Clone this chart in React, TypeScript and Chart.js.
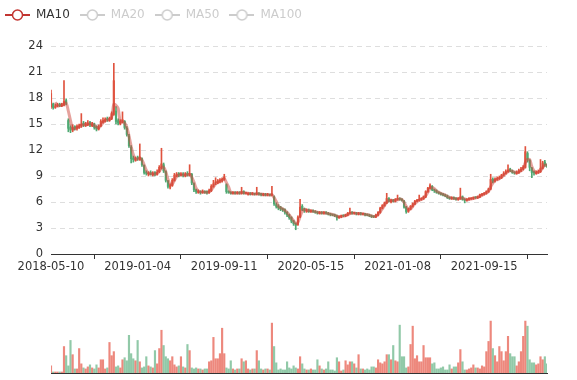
import React, { useEffect, useRef } from 'react';
import { Chart, registerables } from 'chart.js';

Chart.register(...registerables);

const tickLabels = ['2018-05-10', '2019-01-04', '2019-09-11', '2020-05-15', '2021-01-08', '2021-09-15'];
const TICK_STEP = 40; // samples between two date labels
const legendNames = ['MA10', 'MA20', 'MA50', 'MA100'];
const MA_WINDOW = 3; // ~10 trading days at this sampling

const opens = [
  17.0, 17.3, 16.9, 17.1, 17.3, 17.1, 17.2, 17.7, 15.4, 14.6,
  14.3, 14.7, 14.5, 14.6, 14.8, 15.1, 14.8, 14.9, 15.2, 14.8,
  15.0, 14.7, 14.4, 14.8, 15.2, 15.3, 15.6, 15.4, 15.6, 16.1,
  16.5, 15.4, 15.0, 15.2, 15.3, 14.5, 13.6, 12.3, 11.1, 10.8,
  11.1, 10.9, 11.0, 10.2, 9.4, 9.2, 9.4, 9.1, 9.4, 9.2,
  9.5, 10.0, 10.3, 9.5, 8.4, 7.7, 7.9, 8.5, 9.0, 9.3,
  9.1, 9.2, 9.0, 9.3, 9.1, 9.2, 8.1, 7.4, 7.1, 7.2,
  7.1, 7.2, 7.2, 7.1, 7.3, 7.8, 8.2, 8.2, 8.4, 8.5,
  8.6, 8.0, 7.2, 7.1, 7.0, 7.1, 7.0, 7.1, 7.0, 7.2,
  7.0, 6.9, 7.0, 6.9, 7.0, 6.9, 7.0, 6.9, 6.8, 6.9,
  6.8, 6.9, 6.8, 6.6, 5.7, 5.5, 5.4, 5.2, 5.1, 4.8,
  4.5, 4.2, 3.8, 3.5, 3.4, 4.3, 5.5, 5.2, 4.9, 5.1,
  4.9, 5.0, 4.9, 4.8, 4.7, 4.8, 4.7, 4.8, 4.7, 4.6,
  4.55, 4.5, 4.4, 4.2, 4.3, 4.45, 4.4, 4.5, 4.7, 4.8,
  4.7, 4.7, 4.6, 4.7, 4.6, 4.6, 4.55, 4.5, 4.4, 4.35,
  4.3, 4.5, 4.8, 5.3, 5.6, 5.9, 6.4, 6.0, 6.2, 6.1,
  6.3, 6.4, 6.3, 6.1, 5.4, 4.9, 5.2, 5.5, 5.8, 6.1,
  6.2, 6.3, 6.4, 6.6, 7.2, 7.6, 7.8, 7.4, 7.3, 7.1,
  7.0, 6.9, 6.8, 6.7, 6.5, 6.4, 6.5, 6.4, 6.3, 6.4,
  6.6, 6.3, 6.2, 6.3, 6.35, 6.4, 6.55, 6.5, 6.6, 6.8,
  6.9, 7.0, 7.2, 7.5, 8.6, 8.4, 8.6, 8.7, 8.8, 9.1,
  9.3, 9.5, 9.8, 9.6, 9.4, 9.3, 9.4, 9.6, 9.8, 10.0,
  11.6, 10.8, 9.9, 9.5, 9.3, 9.4, 9.5, 9.9, 10.6, 10.3,
];

const closes = [
  18.5, 16.9, 17.1, 17.2, 17.1, 17.2, 17.6, 17.4, 14.5, 14.3,
  14.6, 14.5, 14.7, 14.8, 15.0, 14.9, 15.0, 15.1, 14.9, 15.0,
  14.6, 14.4, 14.7, 15.3, 15.4, 15.5, 15.5, 15.6, 16.2, 20.0,
  15.3, 15.1, 15.3, 15.5, 14.6, 13.8, 12.5, 11.0, 10.9, 11.0,
  11.0, 11.2, 10.3, 9.4, 9.3, 9.3, 9.2, 9.3, 9.2, 9.4,
  10.0, 10.4, 9.6, 8.5, 7.8, 7.9, 8.5, 9.1, 9.2, 9.1,
  9.2, 9.1, 9.2, 9.1, 9.3, 8.2, 7.4, 7.2, 7.2, 7.1,
  7.2, 7.1, 7.1, 7.3, 7.8, 8.1, 8.3, 8.4, 8.5, 8.6,
  8.9, 7.2, 7.1, 7.0, 7.1, 7.0, 7.1, 7.0, 7.2, 7.0,
  7.0, 7.0, 6.9, 7.0, 6.9, 7.0, 6.9, 6.85, 6.9, 6.8,
  6.85, 6.8, 6.9, 5.8, 5.5, 5.3, 5.2, 5.1, 4.8, 4.5,
  4.2, 3.8, 3.5, 3.3, 4.2, 5.4, 5.1, 5.0, 5.1, 4.9,
  5.0, 4.9, 4.8, 4.75, 4.8, 4.7, 4.75, 4.7, 4.6, 4.55,
  4.5, 4.4, 4.2, 4.3, 4.4, 4.4, 4.5, 4.7, 4.8, 4.7,
  4.7, 4.65, 4.7, 4.6, 4.6, 4.55, 4.5, 4.4, 4.3, 4.3,
  4.5, 4.8, 5.3, 5.6, 5.9, 6.4, 6.1, 6.2, 6.1, 6.3,
  6.4, 6.3, 6.2, 5.4, 4.9, 5.2, 5.5, 5.8, 6.1, 6.2,
  6.3, 6.4, 6.6, 7.2, 7.6, 7.9, 7.4, 7.3, 7.1, 7.0,
  6.9, 6.8, 6.7, 6.5, 6.4, 6.45, 6.4, 6.3, 6.4, 6.6,
  6.3, 6.2, 6.3, 6.35, 6.4, 6.5, 6.5, 6.6, 6.85, 6.9,
  7.0, 7.2, 7.5, 8.6, 8.4, 8.6, 8.7, 8.8, 9.1, 9.3,
  9.5, 9.7, 9.6, 9.4, 9.35, 9.4, 9.6, 9.8, 10.0, 11.8,
  10.9, 10.0, 9.4, 9.35, 9.4, 9.5, 9.9, 10.5, 10.3, 10.1,
];

const highs = [
  18.9, 17.4, 17.3, 17.4, 17.4, 17.4, 20.0, 17.9, 15.6, 14.8,
  14.9, 14.8, 14.9, 15.0, 16.2, 15.3, 15.2, 15.4, 15.3, 15.2,
  15.1, 14.8, 14.9, 15.5, 15.7, 15.7, 15.8, 15.8, 16.4, 22.0,
  17.0, 15.6, 15.5, 16.4, 15.4, 14.7, 13.8, 12.5, 11.3, 11.2,
  11.3, 12.7, 11.1, 10.3, 9.6, 9.5, 9.6, 9.5, 9.5, 9.7,
  10.2, 12.2, 10.5, 9.6, 8.5, 8.1, 8.7, 9.3, 9.4, 9.4,
  9.4, 9.4, 9.4, 9.5, 10.3, 9.3, 8.2, 7.5, 7.4, 7.3,
  7.4, 7.3, 7.3, 7.5, 8.0, 8.5, 8.8, 8.6, 8.7, 8.8,
  9.2, 8.1, 7.3, 7.2, 7.2, 7.2, 7.2, 7.2, 7.7, 7.3,
  7.1, 7.1, 7.1, 7.1, 7.0, 7.7, 7.1, 7.0, 7.0, 7.0,
  7.0, 6.9, 7.8, 6.7, 5.9, 5.7, 5.5, 5.3, 5.2, 4.9,
  4.6, 4.3, 3.9, 3.6, 4.4, 6.3, 5.7, 5.3, 5.2, 5.2,
  5.1, 5.1, 5.0, 4.9, 4.9, 4.9, 4.9, 4.9, 4.8, 4.7,
  4.6, 4.6, 4.5, 4.4, 4.5, 4.5, 4.6, 4.8, 5.3, 4.9,
  4.8, 4.8, 4.8, 4.8, 4.7, 4.7, 4.6, 4.6, 4.5, 4.4,
  4.6, 4.9, 5.4, 5.7, 6.0, 7.0, 6.5, 6.3, 6.3, 6.4,
  6.8, 6.5, 6.4, 6.2, 5.5, 5.3, 5.6, 5.9, 6.2, 6.3,
  6.8, 6.5, 6.7, 7.3, 7.7, 8.1, 7.9, 7.5, 7.4, 7.2,
  7.1, 7.0, 6.9, 6.8, 6.6, 6.6, 6.6, 6.5, 6.5, 7.6,
  6.7, 6.4, 6.4, 6.5, 6.5, 6.6, 6.6, 6.7, 6.9, 7.0,
  7.1, 7.3, 7.6, 9.2, 8.8, 8.8, 8.9, 9.0, 9.2, 9.5,
  9.7, 10.3, 9.9, 9.7, 9.5, 9.6, 9.8, 10.0, 10.2, 12.4,
  11.8, 10.9, 10.0, 9.6, 9.6, 9.7, 10.9, 10.7, 10.8, 10.4,
];

const lows = [
  16.8, 16.7, 16.8, 17.0, 17.0, 17.0, 17.1, 17.2, 14.1, 14.0,
  14.1, 14.3, 14.3, 14.5, 14.6, 14.7, 14.7, 14.8, 14.7, 14.7,
  14.4, 14.2, 14.3, 14.7, 15.1, 15.2, 15.3, 15.3, 15.5, 16.0,
  15.0, 14.9, 14.9, 15.1, 14.4, 13.6, 12.3, 10.5, 10.6, 10.7,
  10.8, 10.8, 10.1, 9.2, 9.1, 9.0, 9.1, 9.0, 9.0, 9.1,
  9.4, 9.8, 9.4, 8.3, 7.6, 7.5, 7.8, 8.4, 8.9, 8.9,
  9.0, 8.9, 8.9, 9.0, 9.0, 8.0, 7.2, 7.0, 7.0, 6.9,
  7.0, 7.0, 6.9, 7.0, 7.2, 7.7, 8.0, 8.1, 8.2, 8.3,
  8.5, 7.0, 7.0, 6.9, 6.9, 6.9, 6.9, 6.9, 6.9, 6.9,
  6.9, 6.8, 6.8, 6.8, 6.8, 6.8, 6.8, 6.7, 6.7, 6.7,
  6.7, 6.7, 6.7, 5.6, 5.3, 5.1, 5.0, 4.9, 4.6, 4.3,
  4.0, 3.6, 3.3, 2.8, 3.3, 4.2, 5.0, 4.8, 4.8, 4.8,
  4.8, 4.8, 4.7, 4.6, 4.6, 4.6, 4.6, 4.6, 4.5, 4.4,
  4.4, 4.3, 3.9, 4.1, 4.2, 4.3, 4.3, 4.4, 4.6, 4.6,
  4.6, 4.5, 4.5, 4.5, 4.5, 4.4, 4.4, 4.3, 4.2, 4.2,
  4.2, 4.4, 4.7, 5.2, 5.5, 5.8, 6.0, 5.9, 6.0, 6.0,
  6.2, 6.2, 6.1, 5.3, 4.7, 4.8, 5.1, 5.4, 5.7, 6.0,
  6.1, 6.2, 6.3, 6.5, 7.1, 7.5, 7.3, 7.1, 7.0, 6.9,
  6.8, 6.7, 6.6, 6.4, 6.3, 6.3, 6.3, 6.2, 6.2, 6.3,
  6.2, 5.9, 6.1, 6.2, 6.3, 6.3, 6.4, 6.4, 6.5, 6.7,
  6.8, 6.9, 7.1, 7.4, 8.2, 8.3, 8.5, 8.6, 8.7, 9.0,
  9.2, 9.4, 9.5, 9.3, 9.2, 9.2, 9.3, 9.5, 9.7, 9.9,
  10.6, 9.6, 8.8, 9.1, 9.2, 9.3, 9.4, 9.8, 10.1, 10.0,
];

const volumes = [
  7, 1, 1, 1, 1, 1, 26, 17, 7, 32,
  18, 4, 4, 24, 9, 5, 4, 6, 8, 5,
  4, 8, 5, 13, 13, 4, 5, 30, 17, 21,
  6, 7, 5, 13, 15, 12, 37, 19, 14, 12,
  32, 11, 5, 6, 16, 7, 6, 5, 22, 9,
  24, 42, 27, 16, 14, 12, 16, 8, 6, 7,
  16, 6, 5, 28, 22, 5, 4, 5, 4, 4,
  3, 4, 4, 11, 12, 35, 14, 14, 19, 44,
  19, 5, 4, 12, 4, 3, 4, 4, 14, 11,
  12, 4, 3, 4, 4, 22, 12, 4, 3, 4,
  4, 3, 49, 26, 10, 3, 4, 3, 3, 11,
  5, 4, 7, 5, 4, 16, 9, 4, 3, 3,
  4, 3, 3, 13, 7, 4, 3, 4, 11, 3,
  3, 2, 15, 11, 2, 3, 12, 8, 11, 11,
  9, 5, 18, 4, 4, 3, 4, 3, 6, 6,
  5, 13, 10, 9, 11, 18, 18, 13, 27, 12,
  11, 47, 16, 16, 5, 6, 28, 46, 14, 17,
  11, 11, 27, 15, 15, 15, 9, 10, 4, 4,
  5, 6, 3, 3, 8, 4, 6, 6, 10, 23,
  11, 3, 3, 4, 5, 8, 5, 5, 4, 7,
  6, 21, 31, 51, 24, 17, 11, 26, 21, 12,
  21, 36, 19, 16, 16, 7, 11, 21, 36, 51,
  46, 13, 10, 10, 8, 9, 16, 13, 16, 9,
];

const UP = '#e0533f';
const DOWN = '#4fa973';
const UP_VOL = 'rgba(230,85,70,0.7)';
const DOWN_VOL = 'rgba(71,165,110,0.6)';
const MA_COLOR = '#c23531';
const FONT = 'DejaVu Sans';

function movingAverage(values: number[], n: number): (number | null)[] {
  return values.map((_, i) => {
    if (i < n - 1) return null;
    let s = 0;
    for (let k = i - n + 1; k <= i; k++) s += values[k];
    return s / n;
  });
}

function legendIcon(color: string): HTMLCanvasElement {
  const c = document.createElement('canvas');
  c.width = 25;
  c.height = 14;
  const g = c.getContext('2d')!;
  g.strokeStyle = color;
  g.lineWidth = 2;
  g.beginPath();
  g.moveTo(0, 7);
  g.lineTo(25, 7);
  g.stroke();
  g.beginPath();
  g.arc(12.5, 7, 5, 0, Math.PI * 2);
  g.fillStyle = '#fff';
  g.fill();
  g.lineWidth = 1.5;
  g.stroke();
  return c;
}

export default function App() {
  const priceRef = useRef<HTMLCanvasElement>(null);
  const volRef = useRef<HTMLCanvasElement>(null);

  useEffect(() => {
    const n = closes.length;
    const idx = closes.map((_, i) => i);
    const isUp = closes.map((c, i) => c >= opens[i]);
    const ma = movingAverage(closes, MA_WINDOW);
    const iconOn = legendIcon(MA_COLOR);
    const iconOff = legendIcon('#ccc');

    const legendSpace = {
      id: 'legendSpace',
      beforeInit(chart: any) {
        const legend = chart.legend;
        if (!legend) return;
        const fit = legend.fit;
        legend.fit = function () {
          fit.call(this);
          this.height += 15;
        };
      },
    };

    const price = new Chart(priceRef.current as HTMLCanvasElement, {
      type: 'bar',
      data: {
        datasets: [
          {
            type: 'line',
            label: 'MA10',
            data: idx.map((i) => ({ x: i, y: ma[i] })),
            borderColor: 'rgba(205,70,60,0.5)',
            borderWidth: 3,
            pointRadius: 0,
            tension: 0.35,
            order: 0,
          } as any,
          {
            type: 'bar',
            label: 'body',
            data: idx.map((i) => ({ x: i, y: [opens[i], closes[i]] })),
            backgroundColor: isUp.map((u) => (u ? UP : DOWN)),
            barThickness: 1.5,
            minBarLength: 1,
            grouped: false,
            order: 1,
          } as any,
          {
            type: 'bar',
            label: 'wick',
            data: idx.map((i) => ({ x: i, y: [lows[i], highs[i]] })),
            backgroundColor: isUp.map((u) => (u ? UP : DOWN)),
            barThickness: 1,
            grouped: false,
            order: 2,
          } as any,
        ],
      },
      options: {
        animation: false,
        responsive: false,
        maintainAspectRatio: false,
        layout: { padding: { left: -5, right: 30, top: -1, bottom: 0 } },
        plugins: {
          legend: {
            display: true,
            position: 'top',
            align: 'start',
            onClick: () => {},
            labels: {
              usePointStyle: true,
              pointStyleWidth: 25,
              boxHeight: 12,
              padding: 10,
              font: { family: FONT, size: 12 },
              generateLabels: () =>
                legendNames.map((name, k) => ({
                  text: name,
                  fontColor: k === 0 ? '#333' : '#ccc',
                  pointStyle: k === 0 ? iconOn : iconOff,
                  hidden: false,
                  lineWidth: 0,
                  fillStyle: 'rgba(0,0,0,0)',
                  strokeStyle: 'rgba(0,0,0,0)',
                  datasetIndex: 0,
                })) as any,
            },
          },
          tooltip: { enabled: false },
        },
        scales: {
          x: {
            type: 'linear',
            min: 0,
            max: n - 1,
            offset: false,
            ticks: {
              stepSize: TICK_STEP,
              includeBounds: false,
              autoSkip: false,
              maxRotation: 0,
              color: '#333',
              padding: 1,
              font: { family: FONT, size: 11.5 },
              callback: (v: any) => tickLabels[Math.round(Number(v) / TICK_STEP)] ?? '',
            },
            grid: { drawOnChartArea: false, drawTicks: true, tickLength: 5, tickColor: '#333', color: '#333' },
            border: { display: true, color: '#333', width: 1 },
            afterFit: (s: any) => {
              s.height = 26;
            },
          } as any,
          y: {
            min: 0,
            max: 24,
            ticks: { stepSize: 3, color: '#333', padding: 8, font: { family: FONT, size: 11.5 } },
            grid: {
              drawTicks: false,
              color: (ctx: any) => (ctx.tick && ctx.tick.value === 0 ? 'rgba(0,0,0,0)' : '#dedede'),
            },
            border: { display: false, dash: [5, 4] },
            afterFit: (s: any) => {
              s.width = 56;
            },
          } as any,
        },
      },
      plugins: [legendSpace],
    });

    const vol = new Chart(volRef.current as HTMLCanvasElement, {
      type: 'bar',
      data: {
        datasets: [
          {
            label: 'Volume',
            data: idx.map((i) => ({ x: i, y: volumes[i] })),
            backgroundColor: isUp.map((u) => (u ? UP_VOL : DOWN_VOL)),
            barThickness: 1.5,
          } as any,
        ],
      },
      options: {
        animation: false,
        responsive: false,
        maintainAspectRatio: false,
        layout: { padding: { left: 51, right: 30, top: 16, bottom: 7 } },
        plugins: { legend: { display: false }, tooltip: { enabled: false } },
        scales: {
          x: {
            type: 'linear',
            min: 0,
            max: n - 1,
            offset: false,
            ticks: { display: false },
            grid: { display: false, drawTicks: false },
            border: { display: true, color: '#333', width: 1 },
          } as any,
          y: { display: false, min: 0, max: 56 },
        },
      },
    });

    return () => {
      price.destroy();
      vol.destroy();
    };
  }, []);

  return (
    <div style={{ position: 'fixed', left: 0, top: 0, width: 577, height: 380, background: '#fff' }}>
      <canvas ref={priceRef} width={577} height={280} style={{ position: 'absolute', left: 0, top: 0, display: 'block' }} />
      <canvas ref={volRef} width={577} height={80} style={{ position: 'absolute', left: 0, top: 300, display: 'block' }} />
    </div>
  );
}
